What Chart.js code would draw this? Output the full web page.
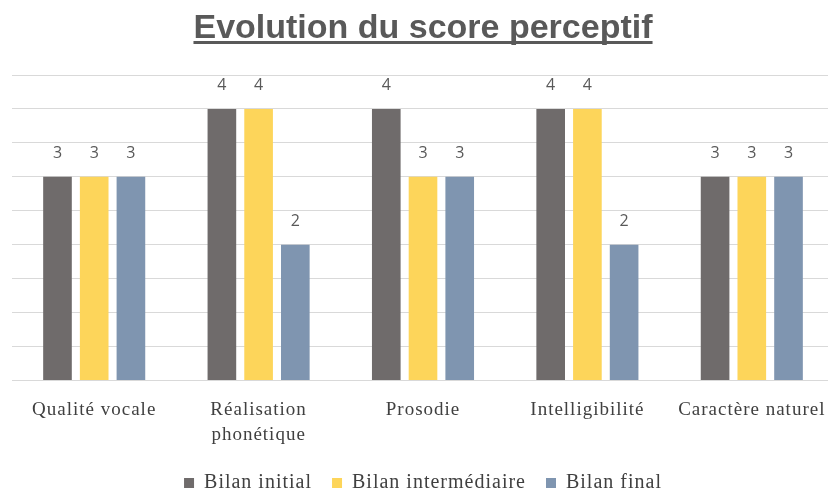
<!DOCTYPE html>
<html>
<head>
<meta charset="utf-8">
<script src="https://cdn.jsdelivr.net/npm/chart.js@4.4.0/dist/chart.umd.min.js"></script>
<style>
  html, body { margin: 0; padding: 0; background: #fff; overflow: hidden; }
  /* the original chart is a little larger than the visible crop */
  #wrap { width: 834px; height: 503px; }
</style>
</head>
<body>
<div id="wrap"><canvas id="scoreChart"></canvas></div>
<script>
// categories and series
const categories = ["Qualité vocale", ["Réalisation", "phonétique"], "Prosodie", "Intelligibilité", "Caractère naturel"];
const bilanInitial = [3, 4, 4, 4, 3];
const bilanIntermediaire = [3, 4, 3, 4, 3];
const bilanFinal = [3, 2, 3, 2, 3];
const chartTitle = "Evolution du score perceptif";

// the serif labels are a bit spaced out in the original
const spacing = {
  id: "spacing",
  beforeUpdate(chart) { chart.ctx.letterSpacing = "1px"; },
  beforeDraw(chart) { chart.ctx.letterSpacing = "1px"; },
};

// value labels above bars, title with underline
const barLabels = {
  id: "barLabels",
  afterDatasetsDraw(chart) {
    const ctx = chart.ctx;
    ctx.save();
    ctx.letterSpacing = "0px";
    ctx.font = "16px 'Open Sans', sans-serif";
    ctx.fillStyle = "#595959";
    ctx.textAlign = "center";
    ctx.textBaseline = "alphabetic";
    chart.data.datasets.forEach((ds, i) => {
      chart.getDatasetMeta(i).data.forEach((bar, j) => {
        ctx.fillText(ds.data[j], bar.x, bar.y - 19);
      });
    });
    ctx.restore();
  },
  afterDraw(chart) {
    const ctx = chart.ctx;
    const area = chart.chartArea;
    ctx.save();
    ctx.letterSpacing = "0px";
    ctx.font = "bold 34px 'Liberation Sans', Arial, sans-serif";
    ctx.fillStyle = "#595959";
    ctx.textAlign = "center";
    ctx.textBaseline = "alphabetic";
    const cx = (area.left + area.right) / 2;
    ctx.fillText(chartTitle, cx, 38);
    const w = ctx.measureText(chartTitle).width;
    ctx.fillRect(cx - w / 2, 41, w, 3);
    ctx.restore();
  }
};

const chartCtx = document.getElementById("scoreChart").getContext("2d");
new Chart(chartCtx, {
  type: "bar",
  data: {
    labels: categories,
    datasets: [
      { label: "Bilan initial", data: bilanInitial, backgroundColor: "#6f6b6b" },
      { label: "Bilan intermédiaire", data: bilanIntermediaire, backgroundColor: "#fdd55a" },
      { label: "Bilan final", data: bilanFinal, backgroundColor: "#7f95b0" },
    ],
  },
  options: {
    responsive: true,
    maintainAspectRatio: false,
    animation: false,
    layout: { padding: { left: 12, right: 0, top: 75, bottom: 0 } },
    datasets: { bar: { categoryPercentage: 0.67, barPercentage: 0.78 } },
    plugins: {
      title: { display: false },
      legend: {
        position: "bottom",
        labels: {
          boxWidth: 10,
          boxHeight: 10,
          color: "#404040",
          font: { family: "'Liberation Serif', serif", size: 20 },
          padding: 20,
        },
      },
      tooltip: { enabled: false },
    },
    scales: {
      x: {
        grid: { display: false, tickLength: 11 },
        border: { display: false },
        ticks: {
          color: "#404040",
          font: { family: "'Liberation Serif', serif", size: 19, lineHeight: 1.3 },
          maxRotation: 0,
          autoSkip: false,
          padding: 6,
        },
        afterFit(scale) { scale.paddingRight = 0; },
      },
      y: {
        min: 0,
        max: 4.5,
        ticks: { display: false, stepSize: 0.5 },
        grid: { color: "#d9d9d9", drawTicks: false },
        border: { display: false },
      },
    },
  },
  plugins: [spacing, barLabels],
});
</script>
</body>
</html>
